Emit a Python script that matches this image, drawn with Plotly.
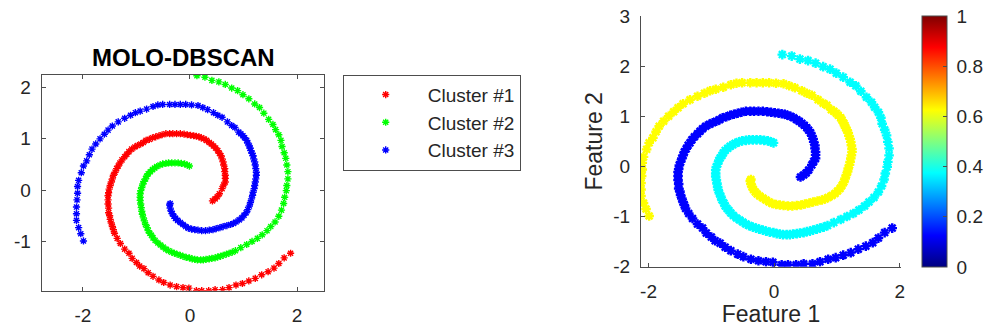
import plotly.graph_objects as go

# --- spiral arms (ordered from the inner end outward) ---
arm1_x = [0.42, 0.47, 0.51, 0.55, 0.60, 0.63, 0.66, 0.66, 0.66, 0.65, 0.65, 0.63, 0.62, 0.60, 0.58, 0.55,
          0.52, 0.48, 0.44, 0.40, 0.36, 0.31, 0.26, 0.21, 0.17, 0.12, 0.07, 0.01, -0.05, -0.11, -0.18, -0.25,
          -0.32, -0.38, -0.45, -0.52, -0.58, -0.64, -0.70, -0.76, -0.82, -0.87, -0.92, -0.98, -1.03, -1.09,
          -1.14, -1.18, -1.22, -1.27, -1.31, -1.34, -1.37, -1.40, -1.43, -1.45, -1.47, -1.49, -1.51, -1.52,
          -1.53, -1.53, -1.53, -1.52, -1.52, -1.50, -1.49, -1.47, -1.45, -1.43, -1.41, -1.36, -1.30, -1.22,
          -1.14, -1.08, -1.00, -0.94, -0.86, -0.78, -0.69, -0.58, -0.49, -0.37, -0.25, -0.13, -0.02, 0.12,
          0.22, 0.35, 0.47, 0.61, 0.73, 0.86, 0.98, 1.10, 1.22, 1.34, 1.46, 1.57, 1.66, 1.76, 1.88]
arm1_y = [-0.21, -0.17, -0.13, -0.07, 0.03, 0.10, 0.16, 0.23, 0.29, 0.36, 0.42, 0.49, 0.55, 0.61, 0.67, 0.72,
          0.77, 0.82, 0.86, 0.90, 0.93, 0.97, 1.00, 1.02, 1.04, 1.05, 1.06, 1.07, 1.08, 1.09, 1.10, 1.10,
          1.10, 1.10, 1.10, 1.08, 1.06, 1.04, 1.02, 0.99, 0.97, 0.93, 0.90, 0.87, 0.84, 0.80,
          0.75, 0.70, 0.65, 0.59, 0.53, 0.47, 0.42, 0.35, 0.29, 0.22, 0.16, 0.09, 0.02, -0.05,
          -0.11, -0.19, -0.27, -0.35, -0.44, -0.50, -0.57, -0.64, -0.71, -0.77, -0.84, -0.94, -1.04, -1.15,
          -1.23, -1.33, -1.41, -1.48, -1.53, -1.61, -1.68, -1.75, -1.80, -1.85, -1.88, -1.90, -1.91, -1.96,
          -1.96, -1.96, -1.94, -1.94, -1.90, -1.85, -1.82, -1.77, -1.72, -1.65, -1.59, -1.52, -1.43, -1.32, -1.23]

arm2_x = [-0.01, -0.05, -0.10, -0.16, -0.22, -0.28, -0.34, -0.40, -0.45, -0.51, -0.56, -0.62, -0.66, -0.70,
          -0.74, -0.78, -0.81, -0.83, -0.86, -0.88, -0.90, -0.92, -0.93, -0.93, -0.93, -0.92, -0.91, -0.90,
          -0.89, -0.87, -0.85, -0.83, -0.80, -0.78, -0.75, -0.72, -0.69, -0.65, -0.60, -0.55, -0.50, -0.45,
          -0.40, -0.34, -0.29, -0.24, -0.18, -0.13, -0.07, -0.01, 0.04, 0.09, 0.14, 0.20, 0.25, 0.30, 0.36,
          0.41, 0.47, 0.52, 0.57, 0.62, 0.68, 0.73, 0.79, 0.85, 0.95, 1.06, 1.16, 1.26, 1.35, 1.44, 1.51,
          1.59, 1.66, 1.71, 1.75, 1.77, 1.80, 1.81, 1.83, 1.83, 1.81, 1.79, 1.76, 1.72, 1.70, 1.66, 1.60,
          1.55, 1.47, 1.38, 1.30, 1.21, 1.10, 0.99, 0.89, 0.78, 0.66, 0.54, 0.41, 0.28, 0.13]
arm2_y = [0.47, 0.49, 0.51, 0.52, 0.53, 0.53, 0.53, 0.53, 0.52, 0.51, 0.49, 0.46, 0.43, 0.40,
          0.36, 0.32, 0.27, 0.22, 0.17, 0.12, 0.05, -0.01, -0.07, -0.14, -0.20, -0.27, -0.34, -0.41,
          -0.47, -0.54, -0.60, -0.67, -0.73, -0.79, -0.84, -0.88, -0.93, -0.98, -1.03, -1.07, -1.11, -1.15,
          -1.18, -1.21, -1.23, -1.25, -1.27, -1.29, -1.31, -1.32, -1.34, -1.35, -1.36, -1.36, -1.36, -1.35, -1.34,
          -1.33, -1.32, -1.30, -1.29, -1.27, -1.25, -1.23, -1.21, -1.18, -1.12, -1.06, -1.00, -0.94, -0.87, -0.79, -0.71,
          -0.62, -0.51, -0.39, -0.26, -0.14, -0.01, 0.09, 0.22, 0.36, 0.49, 0.62, 0.73, 0.85, 0.97, 1.08, 1.18,
          1.28, 1.38, 1.50, 1.61, 1.68, 1.78, 1.86, 1.94, 1.99, 2.06, 2.11, 2.14, 2.20, 2.23]

arm3_x = [-0.37, -0.38, -0.37, -0.35, -0.33, -0.30, -0.27, -0.23, -0.18, -0.13, -0.08, -0.03, 0.03, 0.09,
          0.15, 0.22, 0.29, 0.36, 0.43, 0.49, 0.56, 0.62, 0.69, 0.76, 0.81, 0.86, 0.92, 0.97, 1.01, 1.05,
          1.08, 1.11, 1.13, 1.15, 1.17, 1.18, 1.20, 1.21, 1.22, 1.23, 1.24, 1.24, 1.23, 1.22, 1.21, 1.19,
          1.18, 1.16, 1.14, 1.12, 1.11, 1.08, 1.06, 1.02, 0.99, 0.95, 0.91, 0.84, 0.78, 0.70, 0.60, 0.52,
          0.44, 0.33, 0.24, 0.15, 0.03, -0.08, -0.18, -0.28, -0.38, -0.51, -0.60, -0.69, -0.81, -0.93, -1.02,
          -1.11, -1.22, -1.34, -1.45, -1.53, -1.60, -1.68, -1.76, -1.83, -1.88, -1.93, -1.99, -2.03, -2.08,
          -2.10, -2.10, -2.11, -2.12, -2.12, -2.12, -2.08, -2.04, -1.99]
arm3_y = [-0.26, -0.29, -0.35, -0.41, -0.46, -0.51, -0.55, -0.59, -0.63, -0.67, -0.71, -0.74, -0.76, -0.77,
          -0.78, -0.79, -0.79, -0.78, -0.77, -0.75, -0.73, -0.71, -0.69, -0.67, -0.65, -0.62, -0.58, -0.54, -0.49, -0.44,
          -0.38, -0.31, -0.24, -0.17, -0.10, -0.04, 0.03, 0.09, 0.16, 0.22, 0.29, 0.35, 0.42, 0.49, 0.55, 0.61,
          0.67, 0.72, 0.77, 0.82, 0.86, 0.92, 0.97, 1.02, 1.06, 1.10, 1.13, 1.22, 1.26, 1.33, 1.42, 1.46,
          1.51, 1.57, 1.61, 1.65, 1.66, 1.67, 1.67, 1.67, 1.67, 1.67, 1.66, 1.63, 1.58, 1.54, 1.51,
          1.46, 1.40, 1.33, 1.25, 1.17, 1.09, 1.00, 0.90, 0.80, 0.69, 0.57, 0.47, 0.34, 0.19,
          0.07, -0.06, -0.19, -0.33, -0.46, -0.59, -0.73, -0.85, -0.99]

cluster_names = ["Cluster #1", "Cluster #2", "Cluster #3"]
cluster_colors = ["#ff0000", "#00ff00", "#0000ff"]
# colour value of each arm on the 0-1 jet scale of the right panel
arm_values = [0.125, 0.375, 0.625]

# tick values and their labels (plain hyphen for negatives)
left_xticks = [-2, 0, 2]
left_yticks = [-1, 0, 1, 2]
right_xticks = [-2, 0, 2]
right_yticks = [-2, -1, 0, 1, 2, 3]
cbar_ticks = [0, 0.2, 0.4, 0.6, 0.8, 1]


def tick_text(vals, lead=""):
    return [lead + ("%g" % v) for v in vals]


arms = [(arm1_x, arm1_y), (arm2_x, arm2_y), (arm3_x, arm3_y)]

jet = [[0.0, "rgb(0,0,128)"], [0.125, "rgb(0,0,255)"], [0.375, "rgb(0,255,255)"],
       [0.625, "rgb(255,255,0)"], [0.875, "rgb(255,0,0)"], [1.0, "rgb(128,0,0)"]]

FONT = "Liberation Sans, Arial, Helvetica, sans-serif"
TXT = "#262626"
AX = "#4d4d4d"
W, H = 985, 332
TICK = 19

fig = go.Figure()

# left panel: clusters found by MOLO-DBSCAN
for (xs, ys), name, col in zip(arms, cluster_names, cluster_colors):
    fig.add_trace(go.Scatter(
        x=xs, y=ys, mode="markers", name=name, xaxis="x", yaxis="y",
        marker=dict(symbol="asterisk-open", size=6, color=col, line=dict(width=1.4, color=col)),
    ))

# right panel: same points coloured by value on a jet colour scale
for i, ((xs, ys), v) in enumerate(zip(arms, arm_values)):
    fig.add_trace(go.Scatter(
        x=xs, y=ys, mode="markers", showlegend=False, xaxis="x2", yaxis="y2",
        marker=dict(symbol="asterisk-open", size=8, color=[v] * len(xs), colorscale=jet,
                    cmin=0, cmax=1, line=dict(width=2.4),
                    showscale=(i == 0),
                    colorbar=dict(x=921.7 / W, xanchor="left", xpad=0,
                                  y=(H - 16) / H, yanchor="top", ypad=0,
                                  len=251, lenmode="pixels", thickness=25, thicknessmode="pixels",
                                  outlinewidth=1, outlinecolor=AX,
                                  tickvals=cbar_ticks, ticktext=tick_text(cbar_ticks, "\u2005"),
                                  ticks="inside", ticklen=4, tickcolor=AX,
                                  tickfont=dict(family=FONT, size=TICK, color=TXT))),
    ))

axis_common = dict(showgrid=False, zeroline=False, showline=True, linecolor=AX, linewidth=1,
                   ticks="inside", ticklen=4, tickcolor=AX,
                   tickfont=dict(family=FONT, size=TICK, color=TXT))

fig.update_layout(
    width=W, height=H, margin=dict(l=0, r=0, t=0, b=0, autoexpand=False),
    paper_bgcolor="white", plot_bgcolor="white",
    font=dict(family=FONT, color=TXT),
    xaxis=dict(domain=[41.7 / W, 324.3 / W], range=[-2.77, 2.51],
               tickvals=left_xticks, ticktext=tick_text(left_xticks),
               mirror="ticks", anchor="y", ticklabelstandoff=7, **axis_common),
    yaxis=dict(domain=[(H - 290.7) / H, (H - 74.7) / H], range=[-1.96, 2.25],
               tickvals=left_yticks, ticktext=tick_text(left_yticks),
               mirror="ticks", anchor="x", ticklabelstandoff=6, **axis_common),
    xaxis2=dict(domain=[641 / W, 901 / W], range=[-2.12, 2.02],
                tickvals=right_xticks, ticktext=tick_text(right_xticks),
                anchor="y2", ticklabelstandoff=7,
                title=dict(text="Feature 1", font=dict(family=FONT, size=23, color=TXT), standoff=2),
                **axis_common),
    yaxis2=dict(domain=[(H - 266.7) / H, (H - 16) / H], range=[-2, 3],
                tickvals=right_yticks, ticktext=tick_text(right_yticks),
                anchor="x2", ticklabelstandoff=6,
                title=dict(text="Feature 2", font=dict(family=FONT, size=23, color=TXT), standoff=4),
                **axis_common),
    legend=dict(x=342.7 / W, xanchor="left", y=(H - 74.7) / H, yanchor="top",
                bordercolor=AX, borderwidth=1, bgcolor="white", itemwidth=74,
                font=dict(family=FONT, size=19, color=TXT)),
    annotations=[dict(text="<b>MOLO-DBSCAN</b>", x=183 / W, y=(H - 58) / H,
                      xref="paper", yref="paper", xanchor="center", yanchor="middle",
                      showarrow=False, font=dict(family=FONT, size=24, color="#000000"))],
)

fig.write_html("out.html")
